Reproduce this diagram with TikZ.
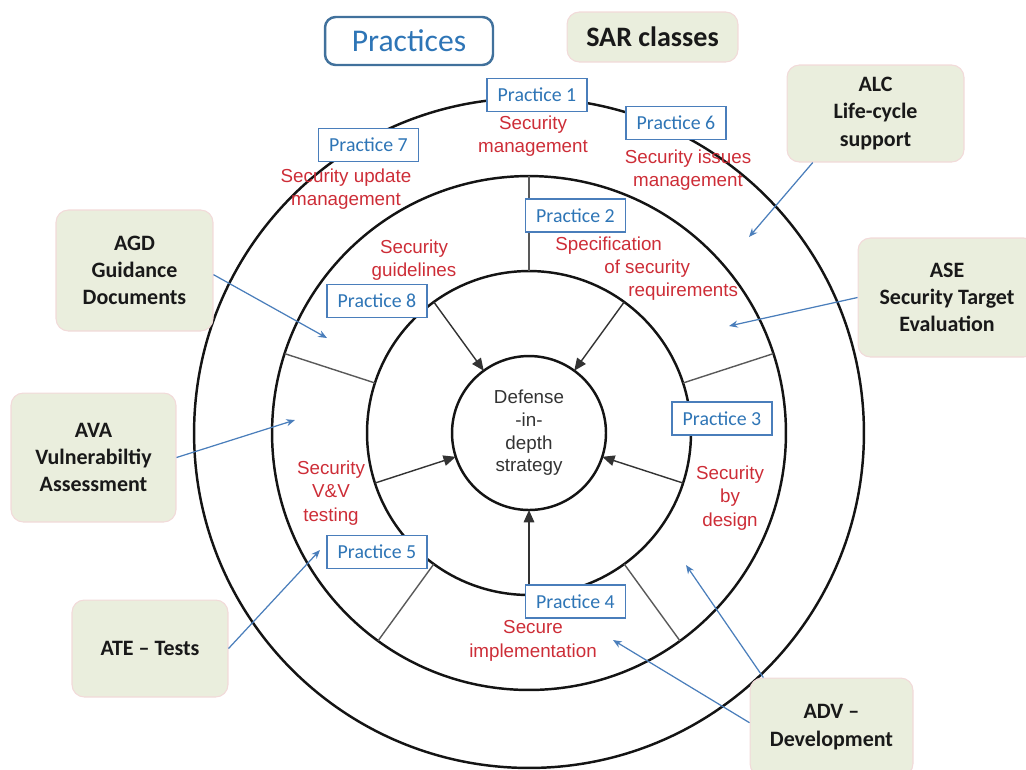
\documentclass[tikz,border=0pt]{standalone}
\usepackage{fontspec}
\setmainfont{Carlito}
\newfontfamily\arialfont{Liberation Sans}
\usetikzlibrary{arrows.meta}

\definecolor{ringblack}{RGB}{20,20,20}
\definecolor{sarfill}{RGB}{234,238,221}
\definecolor{sarline}{RGB}{242,218,217}
\definecolor{pracblue}{RGB}{46,117,182}
\definecolor{pracline}{RGB}{74,126,187}
\definecolor{headline}{RGB}{65,113,156}
\definecolor{labelred}{RGB}{205,45,55}
\definecolor{flowblue}{RGB}{74,126,187}

\begin{document}
\begin{tikzpicture}[x=0.02cm,y=-0.02cm,
  ring/.style={circle, draw=ringblack, line width=1.4pt, inner sep=0pt, outer sep=0pt},
  divider/.style={draw=black!65, line width=0.8pt},
  spoke/.style={draw=black!80, line width=0.8pt, -{Triangle[length=7pt,width=6pt]}},
  sarbox/.style={draw=sarline, fill=sarfill, rounded corners=7pt, line width=0.6pt,
    font=\bfseries\fontsize{12.5}{15.5}\selectfont, align=center, inner sep=0pt, text=black!90},
  pracbox/.style={draw=pracline, fill=white, line width=0.8pt, text=pracblue,
    font=\fontsize{11.3}{13}\selectfont, minimum width=2cm, minimum height=0.66cm, inner sep=0pt},
  redlabel/.style={text=labelred, font=\arialfont\fontsize{10.7}{13.3}\selectfont, align=center, inner sep=0pt},
  flow/.style={draw=flowblue, line width=0.7pt, -{Stealth[length=5pt,width=4pt]}}
]
\useasboundingbox (0,0) rectangle (1026,769);
\clip (0,0) rectangle (1026,769);

% concentric rings
\node[ring, minimum size=13.4cm] (outer) at (529,433) {};
\node[ring, minimum size=10.28cm] (middle) at (529,433) {};
\node[ring, minimum size=6.48cm] (inner) at (529,433) {};
\node[ring, minimum size=3.08cm, align=center, text=black!80,
  font=\arialfont\fontsize{10.7}{12.9}\selectfont] (core) at (529,433) {Defense\\-in-\\depth\\strategy};

% sector dividers of the middle ring
\foreach \a in {90,18,306,234,162}
  \draw[divider] (middle.\a) -- (inner.\a);

% spokes into the core
\foreach \a in {126,54,342,270,198}
  \draw[spoke] (inner.\a) -- (core.\a);

% practice tags
\node[pracbox] (p1) at (537,95) {Practice 1};
\node[pracbox] (p6) at (676,123) {Practice 6};
\node[pracbox] (p7) at (368.5,145) {Practice 7};
\node[pracbox] (p2) at (575.5,215.5) {Practice 2};
\node[pracbox] (p8) at (377,301) {Practice 8};
\node[pracbox] (p3) at (722,418.5) {Practice 3};
\node[pracbox] (p5) at (377,552) {Practice 5};
\node[pracbox] (p4) at (575.5,601.5) {Practice 4};

% practice names
\node[redlabel] (l1) at (533,136) {Security\\management};
\node[redlabel] (l6) at (688,170) {Security issues\\management};
\node[redlabel] (l7) at (346,189) {Security update\\management};
\node[redlabel] (l8) at (414,260) {Security\\guidelines};
\node[redlabel, align=left, anchor=west] (l2) at (555,268.5)
  {Specification\\\hspace*{0.98cm}of security\\\hspace*{1.46cm}requirements};
\node[redlabel] (l3) at (730,498) {Security\\by\\design};
\node[redlabel] (l4) at (533,641) {Secure\\implementation};
\node[redlabel] (l5) at (331,493) {Security\\V\&V\\testing};

% headings
\node[draw=headline, line width=1.4pt, rounded corners=6pt, minimum width=3.36cm,
  minimum height=0.96cm, text=pracblue, font=\fontsize{18}{20}\selectfont] (title) at (409,41) {Practices};
\node[sarbox, minimum width=3.42cm, minimum height=1.0cm, font=\bfseries\fontsize{16}{18}\selectfont]
  (sar) at (652.5,37) {SAR classes};

% SAR class boxes
\node[sarbox, minimum width=3.54cm, minimum height=1.94cm] (alc) at (875.5,113.5) {ALC\\Life-cycle\\support};
\node[sarbox, minimum width=3.56cm, minimum height=2.38cm] (ase) at (947,297.5) {ASE\\Security Target\\Evaluation};
\node[sarbox, minimum width=3.14cm, minimum height=2.42cm] (agd) at (134.5,270.5) {AGD\\Guidance\\Documents};
\node[sarbox, minimum width=3.3cm, minimum height=2.58cm] (ava) at (93.5,457.5) {AVA\\Vulnerabiltiy\\Assessment};
\node[sarbox, minimum width=3.12cm, minimum height=1.94cm] (ate) at (150,648.5) {ATE -- Tests};
\node[sarbox, minimum width=3.26cm, minimum height=1.96cm] (adv) at (831.5,727) {ADV --\\Development};

% targets inside the rings
\coordinate (tALC) at (749,237);
\coordinate (tASE) at (729,326);
\coordinate (tAGD) at (327,338);
\coordinate (tAVA) at (295,420);
\coordinate (tATE) at (320,550);
\coordinate (tADVa) at (686,565);
\coordinate (tADVb) at (613,640);

\draw[flow] (alc.218) -- (tALC);
\draw[flow] (ase.west) -- (tASE);
\draw[flow] (agd.-3) -- (tAGD);
\draw[flow] (ava.east) -- (tAVA);
\draw[flow] (ate.east) -- (tATE);
\draw[flow] (adv.144) -- (tADVa);
\draw[flow] (adv.177) -- (tADVb);
\end{tikzpicture}
\end{document}
